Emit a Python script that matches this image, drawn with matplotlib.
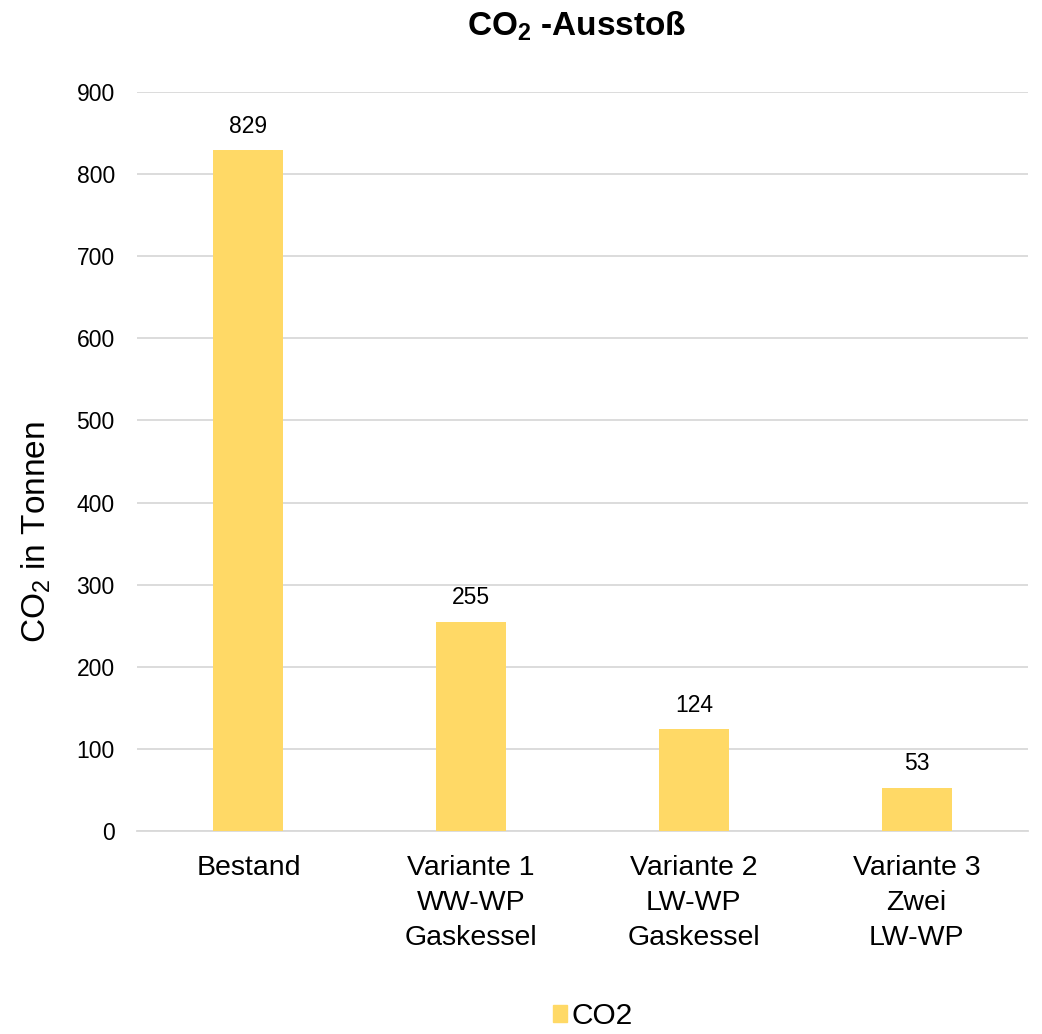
import matplotlib.pyplot as plt
from matplotlib.patches import Patch

plt.rcParams["font.family"] = ["Liberation Sans", "DejaVu Sans"]
plt.rcParams["mathtext.fontset"] = "custom"
plt.rcParams["mathtext.rm"] = "Liberation Sans"
plt.rcParams["mathtext.it"] = "Liberation Sans"
plt.rcParams["mathtext.bf"] = "Liberation Sans:bold"

# CO2 emissions per heating variant (tonnes)
categories = ["Bestand", "Variante 1\nWW-WP\nGaskessel", "Variante 2\nLW-WP\nGaskessel", "Variante 3\nZwei\nLW-WP"]
co2_values = [829, 255, 124, 53]
series_name = "CO2"
bar_color = "#FFD966"

fig = plt.figure(figsize=(10.42, 10.34), dpi=100)
ax = fig.add_axes([0.1315, 0.1963, 0.855, 0.7147])

positions = list(range(len(categories)))
bars = ax.bar(positions, co2_values, width=0.314, color=bar_color, zorder=3)
for b, v in zip(bars, co2_values):
    ax.annotate(str(v), (b.get_x() + b.get_width() / 2, v), xytext=(0, 9),
                textcoords="offset points", ha="center", va="bottom", fontsize=16.5)

ax.set_xlim(-0.5, len(categories) - 0.5)
ax.set_ylim(0, 900)
ax.set_yticks(range(0, 901, 100))
ax.set_xticks(positions)
ax.set_xticklabels(categories, fontsize=20.5, linespacing=1.44)
ax.tick_params(axis="y", labelsize=16.5, length=0, pad=16)
ax.tick_params(axis="x", length=0, pad=17.5)
ax.grid(axis="y", color="#d9d9d9", linewidth=1.3, zorder=0)
for side in ["top", "right", "left"]:
    ax.spines[side].set_visible(False)
ax.spines["bottom"].set_color("#d9d9d9")
ax.spines["bottom"].set_linewidth(1.3)

fig.text(0.035, 0.4855, "CO$_2$ in Tonnen", rotation=90, ha="center", va="center", fontsize=24)
fig.text(0.553, 0.975, "CO$_\\mathbf{2}$ -Ausstoß", ha="center", va="center",
         fontsize=24, fontweight="bold")

fig.legend(handles=[Patch(color=bar_color, label=series_name)], loc="center",
           bbox_to_anchor=(0.569, 0.017), frameon=False, fontsize=21.5,
           handlelength=0.5, handleheight=0.5, handletextpad=0.15,
           borderpad=0.1)

fig.savefig("out.png", dpi=100)
